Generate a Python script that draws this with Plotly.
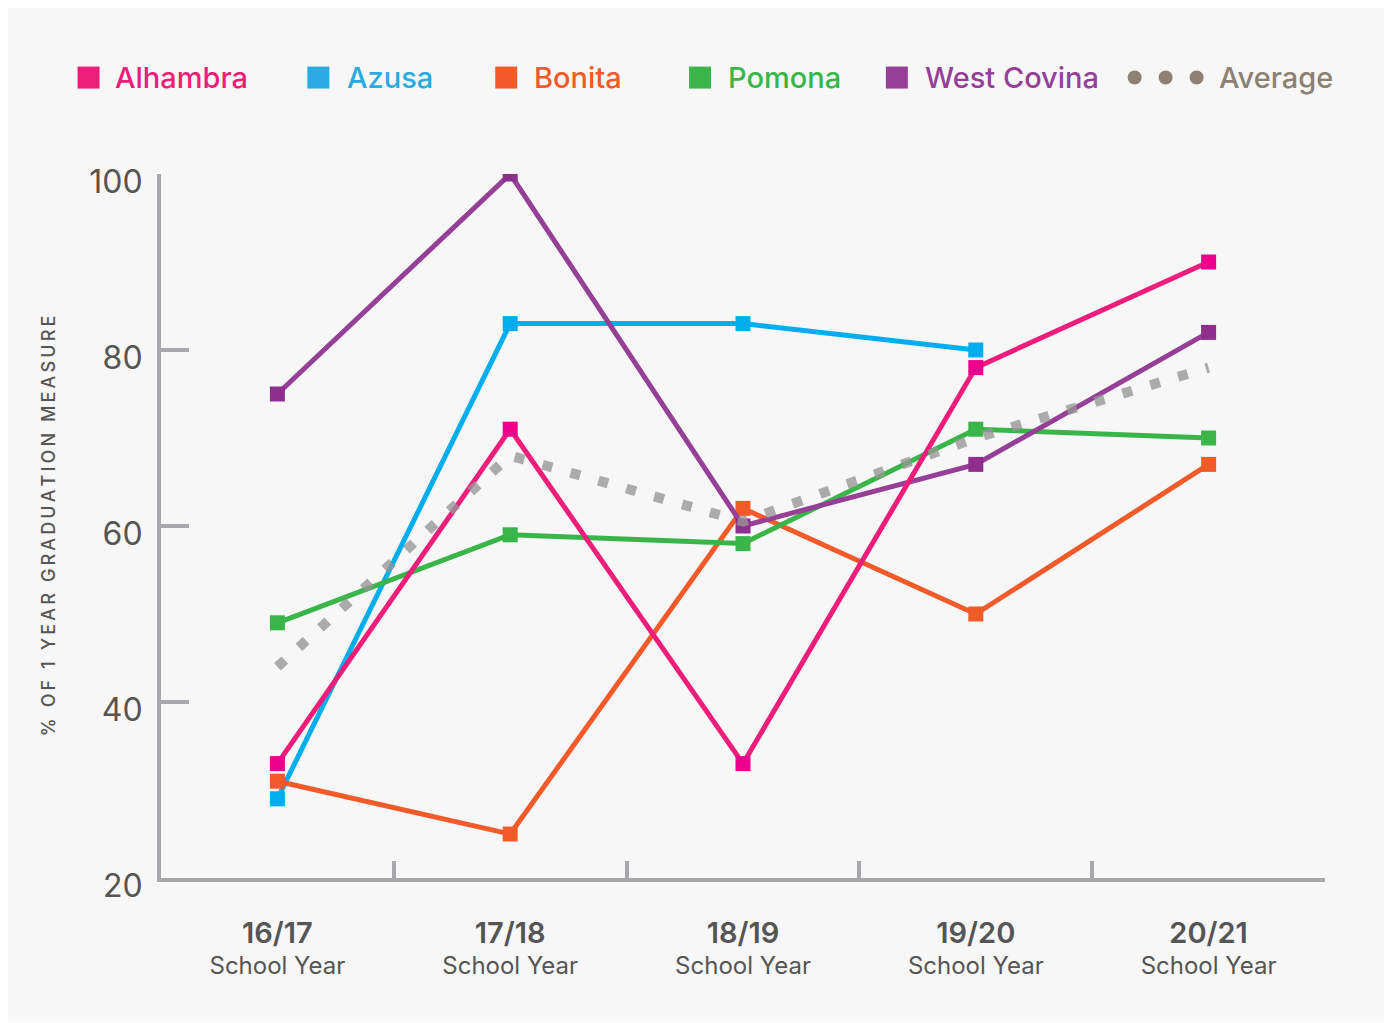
import plotly.graph_objects as go

# ─────────────────────────────────────────────────────────────
# DATA
# ─────────────────────────────────────────────────────────────
years = ["16/17", "17/18", "18/19", "19/20", "20/21"]

alhambra    = [33, 71, 33, 78, 90]
azusa       = [29, 83, 83, 80, None]
bonita      = [31, 25, 62, 50, 67]
pomona      = [49, 59, 58, 71, 70]
west_covina = [75, 100, 60, 67, 82]
average     = [44, 68, 60.5, 70, 78]

y_ticks = [20, 40, 60, 80, 100]

y_title = "% OF 1 YEAR GRADUATION MEASURE"

# ─────────────────────────────────────────────────────────────
# STYLE
# ─────────────────────────────────────────────────────────────
FONT    = "Inter, Roboto, Arial, sans-serif"
AXIS    = "#a7a8ab"
TXT     = "#555555"
BG      = "#f7f7f7"
AVG_TXT = "#8c8172"

series = [
    # name, values, line colour, marker colour, legend colour
    ("Azusa",       azusa,       "#00aeef", "#00aeef", "#29abe2"),
    ("Bonita",      bonita,      "#f15a29", "#f15a29", "#f15a29"),
    ("Pomona",      pomona,      "#39b54a", "#39b54a", "#39b54a"),
    ("West Covina", west_covina, "#953f97", "#8f2f8d", "#953f97"),
    ("Alhambra",    alhambra,    "#ed1e79", "#ec008c", "#ed1e79"),
]

W, H = 1378, 1014
M = dict(l=152.5, r=60.5, t=165.5, b=144)
PW = W - M["l"] - M["r"]
PH = H - M["t"] - M["b"]
OFF = 8  # body margin of the html page


def px_x(page_x):
    return (page_x - OFF - M["l"]) / PW


def px_y(page_y):
    return (H - M["b"] - (page_y - OFF)) / PH


fig = go.Figure()

for name, vals, lc, mc, _ in series:
    fig.add_trace(go.Scatter(
        x=years, y=vals, name=name,
        mode="lines+markers",
        line=dict(color=lc, width=5),
        marker=dict(symbol="square", size=15, color=mc),
        showlegend=False,
    ))

fig.add_trace(go.Scatter(
    x=years, y=average, name="Average",
    mode="lines",
    line=dict(color="rgba(150,150,150,0.78)", width=10, dash="10px,19px"),
    showlegend=False,
))

# ── legend drawn by hand (squares + coloured labels) ─────────
legend_pos = {
    "Alhambra":    (88, 112),
    "Azusa":       (318, 345),
    "Bonita":      (506, 532),
    "Pomona":      (700, 726),
    "West Covina": (897, 923),
}
shapes, annotations = [], []
LEG_Y = 77
for name, _, _, _, col in series:
    cx, tx = legend_pos[name]
    shapes.append(dict(
        type="rect", xref="paper", yref="paper",
        x0=px_x(cx - 11), x1=px_x(cx + 11),
        y0=px_y(LEG_Y + 11), y1=px_y(LEG_Y - 11),
        fillcolor=col, line=dict(width=0),
    ))
    annotations.append(dict(
        text=name, xref="paper", yref="paper",
        x=px_x(tx), y=px_y(LEG_Y), xanchor="left", yanchor="middle",
        showarrow=False,
        font=dict(family=FONT, size=29, color=col, weight=500),
    ))

for cx in (1135, 1166, 1197):
    shapes.append(dict(
        type="circle", xref="paper", yref="paper",
        x0=px_x(cx - 7), x1=px_x(cx + 7),
        y0=px_y(LEG_Y + 7), y1=px_y(LEG_Y - 7),
        fillcolor=AVG_TXT, line=dict(width=0),
    ))
annotations.append(dict(
    text="Average", xref="paper", yref="paper",
    x=px_x(1217), y=px_y(LEG_Y), xanchor="left", yanchor="middle",
    showarrow=False,
    font=dict(family=FONT, size=29, color=AVG_TXT, weight=500),
))

tick_text = [
    f"<span style='font-size:29px;font-weight:600'>{yr}</span><br>"
    f"School Year"
    for yr in years
]

fig.update_layout(
    width=W, height=H,
    margin=M,
    paper_bgcolor=BG,
    plot_bgcolor=BG,
    font=dict(family=FONT, color=TXT),
    shapes=shapes,
    annotations=annotations,
    xaxis=dict(
        type="category",
        range=[-0.5, 4.5],
        tickvals=years, ticktext=tick_text,
        tickson="boundaries",
        ticks="inside", ticklen=17, tickwidth=4, tickcolor=AXIS,
        showline=True, linewidth=4, linecolor=AXIS,
        showgrid=False, zeroline=False,
        tickfont=dict(family=FONT, size=24, color=TXT),
        ticklabelstandoff=32,
    ),
    yaxis=dict(
        range=[20, 100],
        tickvals=y_ticks,
        ticks="inside", ticklen=28, tickwidth=4, tickcolor=AXIS,
        showline=True, linewidth=4, linecolor=AXIS,
        showgrid=False, zeroline=False,
        tickfont=dict(family=FONT, size=32, color=TXT),
        ticklabelstandoff=8,
        ticklabelshift=8,
        title=dict(
            # thin spaces reproduce the wide letter tracking of the original
            text="\u2009".join(y_title),
            font=dict(family=FONT, size=18, color=TXT, weight=500),
            standoff=30,
        ),
    ),
)

fig.write_html("out.html")
